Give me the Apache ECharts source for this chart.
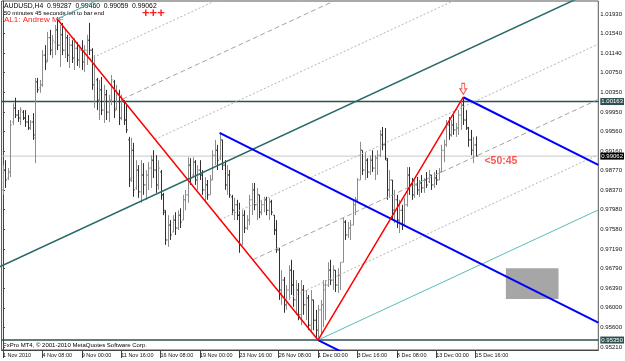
<!DOCTYPE html>
<html>
<head>
<meta charset="utf-8">
<script src="https://cdn.jsdelivr.net/npm/echarts@6/dist/echarts.min.js"></script>
<style>
html,body{margin:0;padding:0;background:#fff}
#main{width:625px;height:361px}
</style>
</head>
<body>
<div id="main"></div>
<script>
// time axis: one label every 16 H4 bars
var timeLabels = ['1 Nov 2010','4 Nov 08:00','9 Nov 00:00','11 Nov 16:00','16 Nov 08:00','19 Nov 00:00','23 Nov 16:00','26 Nov 08:00','1 Dec 00:00','3 Dec 16:00','8 Dec 08:00','13 Dec 00:00','15 Dec 16:00'];
var timeLabelBars = [0,16,32,48,64,80,96,112,128,144,160,176,192];
var priceLabels = [1.01930,1.01540,1.01140,1.00750,1.00350,0.99950,0.99560,0.99160,0.98770,0.98370,0.97980,0.97580,0.97190,0.96790,0.96390,0.96000,0.95600,0.95210];

var opens = [
0.9838,0.9878,0.9862,0.9874,0.9975,1.0003,0.9989,0.9983,0.9995,0.9983,
0.9975,0.9963,0.9975,0.9943,1.0056,1.0044,1.0050,1.0110,1.0100,1.0145,
1.0120,1.0136,1.0161,1.0130,1.0151,1.0120,1.0145,1.0110,1.0130,1.0104,
1.0124,1.0100,1.0120,1.0096,1.0120,1.0140,1.0120,1.0050,1.0060,1.0019,
1.0040,0.9999,1.0030,0.9995,1.0019,1.0056,1.0003,1.0030,0.9983,1.0015,
0.9979,0.9939,0.9862,0.9918,0.9842,0.9878,0.9834,0.9868,0.9848,0.9868,
0.9882,0.9898,0.9878,0.9848,0.9874,0.9828,0.9793,0.9737,0.9767,0.9753,
0.9777,0.9761,0.9787,0.9777,0.9818,0.9828,0.9888,0.9868,0.9894,0.9858,
0.9878,0.9868,0.9838,0.9848,0.9828,0.9858,0.9908,0.9918,0.9902,0.9939,
0.9888,0.9848,0.9868,0.9824,0.9797,0.9808,0.9787,0.9727,0.9787,0.9761,
0.9777,0.9818,0.9838,0.9808,0.9828,0.9793,0.9808,0.9818,0.9797,0.9814,
0.9787,0.9757,0.9717,0.9636,0.9656,0.9606,0.9636,0.9676,0.9646,0.9616,
0.9636,0.9586,0.9636,0.9606,0.9620,0.9565,0.9616,0.9575,0.9555,0.9596,
0.9606,0.9636,0.9646,0.9676,0.9656,0.9676,0.9646,0.9666,0.9692,0.9773,
0.9747,0.9761,0.9767,0.9808,0.9818,0.9858,0.9918,0.9878,0.9898,0.9874,
0.9898,0.9882,0.9902,0.9908,0.9949,0.9929,0.9898,0.9838,0.9858,0.9797,
0.9818,0.9777,0.9797,0.9767,0.9808,0.9868,0.9848,0.9828,0.9848,0.9838,
0.9852,0.9842,0.9858,0.9854,0.9868,0.9848,0.9862,0.9858,0.9874,0.9918,
0.9929,0.9969,0.9949,0.9969,0.9959,0.9963,0.9989,1.0009,0.9979,0.9963,
0.9939,0.9918,0.99287];
var highs = [
0.9888,0.9898,0.9882,0.9979,1.0013,1.0024,0.9999,1.0005,0.9999,0.9999,
0.9989,0.9979,0.9993,1.0064,1.0064,1.0060,1.0120,1.0130,1.0157,1.0161,
1.0151,1.0171,1.0183,1.0171,1.0175,1.0161,1.0151,1.0147,1.0140,1.0145,
1.0136,1.0130,1.0140,1.0130,1.0151,1.0175,1.0124,1.0110,1.0064,1.0060,
1.0066,1.0050,1.0040,1.0030,1.0070,1.0060,1.0050,1.0040,1.0030,1.0019,
1.0009,0.9945,0.9943,0.9933,0.9898,0.9888,0.9898,0.9892,0.9878,0.9894,
0.9908,0.9918,0.9908,0.9898,0.9878,0.9832,0.9797,0.9787,0.9777,0.9787,
0.9793,0.9797,0.9801,0.9828,0.9838,0.9904,0.9902,0.9904,0.9898,0.9888,
0.9898,0.9878,0.9864,0.9858,0.9868,0.9918,0.9939,0.9929,0.9953,0.9939,
0.9898,0.9888,0.9878,0.9828,0.9822,0.9818,0.9812,0.9797,0.9797,0.9787,
0.9828,0.9852,0.9852,0.9842,0.9828,0.9818,0.9824,0.9824,0.9822,0.9818,
0.9787,0.9777,0.9721,0.9676,0.9662,0.9646,0.9686,0.9697,0.9676,0.9656,
0.9650,0.9656,0.9646,0.9636,0.9626,0.9636,0.9616,0.9596,0.9606,0.9616,
0.9656,0.9656,0.9692,0.9697,0.9686,0.9676,0.9680,0.9692,0.9783,0.9777,
0.9773,0.9777,0.9818,0.9824,0.9862,0.9935,0.9918,0.9914,0.9902,0.9908,
0.9918,0.9908,0.9918,0.9959,0.9965,0.9963,0.9902,0.9878,0.9858,0.9838,
0.9828,0.9818,0.9808,0.9822,0.9884,0.9884,0.9862,0.9858,0.9864,0.9858,
0.9868,0.9862,0.9874,0.9878,0.9868,0.9874,0.9878,0.9882,0.9929,0.9939,
0.9979,0.9985,0.9979,0.9989,0.9973,0.9999,1.0019,1.0025,0.9999,0.9965,
0.9959,0.9945,0.99460];
var lows = [
0.9828,0.9842,0.9858,0.9864,0.9969,0.9983,0.9975,0.9969,0.9979,0.9965,
0.9959,0.9959,0.9939,0.9892,1.0034,1.0034,1.0046,1.0080,1.0096,1.0110,
1.0104,1.0110,1.0120,1.0086,1.0110,1.0104,1.0096,1.0084,1.0094,1.0080,
1.0088,1.0084,1.0080,1.0076,1.0090,1.0110,1.0040,1.0003,0.9999,0.9979,
0.9989,0.9973,0.9979,0.9975,1.0009,0.9983,0.9999,0.9969,0.9979,0.9969,
0.9953,0.9844,0.9854,0.9824,0.9838,0.9822,0.9812,0.9828,0.9818,0.9838,
0.9842,0.9862,0.9832,0.9838,0.9818,0.9787,0.9727,0.9723,0.9737,0.9753,
0.9747,0.9757,0.9761,0.9777,0.9797,0.9812,0.9848,0.9862,0.9848,0.9838,
0.9858,0.9828,0.9812,0.9818,0.9828,0.9858,0.9888,0.9878,0.9898,0.9878,
0.9838,0.9828,0.9822,0.9787,0.9777,0.9777,0.9711,0.9727,0.9751,0.9757,
0.9767,0.9787,0.9797,0.9777,0.9781,0.9787,0.9793,0.9787,0.9777,0.9787,
0.9747,0.9711,0.9616,0.9606,0.9590,0.9596,0.9616,0.9626,0.9602,0.9586,
0.9575,0.9565,0.9586,0.9575,0.9555,0.9549,0.9555,0.9539,0.9535,0.9545,
0.9561,0.9575,0.9642,0.9646,0.9636,0.9632,0.9630,0.9636,0.9692,0.9737,
0.9741,0.9737,0.9767,0.9787,0.9814,0.9858,0.9868,0.9858,0.9862,0.9868,
0.9874,0.9858,0.9868,0.9904,0.9918,0.9898,0.9818,0.9822,0.9777,0.9771,
0.9761,0.9751,0.9757,0.9767,0.9804,0.9828,0.9818,0.9822,0.9828,0.9824,
0.9832,0.9832,0.9842,0.9852,0.9838,0.9842,0.9848,0.9858,0.9874,0.9894,
0.9925,0.9939,0.9945,0.9949,0.9945,0.9949,0.9959,0.9969,0.9959,0.9925,
0.9908,0.9892,0.99059];
var closes = [
0.9878,0.9858,0.9874,0.9969,1.0003,0.9989,0.9983,0.9999,0.9983,0.9975,
0.9963,0.9975,0.9949,1.0056,1.0040,1.0050,1.0110,1.0096,1.0145,1.0120,
1.0140,1.0161,1.0130,1.0151,1.0120,1.0145,1.0110,1.0130,1.0104,1.0124,
1.0100,1.0120,1.0096,1.0120,1.0140,1.0120,1.0050,1.0090,1.0019,1.0040,
0.9999,1.0030,0.9995,1.0019,1.0060,0.9999,1.0030,0.9983,1.0019,0.9979,
0.9959,0.9858,0.9918,0.9838,0.9878,0.9834,0.9868,0.9848,0.9868,0.9882,
0.9898,0.9878,0.9848,0.9882,0.9828,0.9797,0.9737,0.9767,0.9747,0.9777,
0.9761,0.9787,0.9773,0.9818,0.9828,0.9888,0.9862,0.9894,0.9858,0.9878,
0.9868,0.9838,0.9848,0.9828,0.9858,0.9908,0.9918,0.9898,0.9939,0.9888,
0.9848,0.9868,0.9828,0.9797,0.9808,0.9787,0.9727,0.9787,0.9761,0.9777,
0.9818,0.9838,0.9808,0.9828,0.9793,0.9808,0.9818,0.9797,0.9814,0.9793,
0.9757,0.9717,0.9636,0.9656,0.9606,0.9636,0.9676,0.9646,0.9616,0.9636,
0.9586,0.9636,0.9606,0.9620,0.9565,0.9616,0.9575,0.9555,0.9596,0.9606,
0.9646,0.9646,0.9676,0.9656,0.9676,0.9646,0.9666,0.9692,0.9773,0.9747,
0.9761,0.9767,0.9808,0.9818,0.9858,0.9918,0.9878,0.9898,0.9874,0.9898,
0.9882,0.9902,0.9908,0.9949,0.9929,0.9902,0.9838,0.9858,0.9797,0.9818,
0.9777,0.9797,0.9767,0.9808,0.9868,0.9848,0.9828,0.9848,0.9838,0.9852,
0.9842,0.9858,0.9848,0.9868,0.9848,0.9862,0.9858,0.9874,0.9918,0.9929,
0.9969,0.9949,0.9969,0.9959,0.9963,0.9989,1.0009,0.9979,0.9963,0.9939,
0.9918,0.9929,0.99062];

// drawn objects (bar index, price)
var zigzag = [[22,1.0183],[128,0.9535],[187,1.0025]];
var blueFork = [[88,0.9953],[128,0.9535],[187,1.0025]];   // pivot, low, high
var mfPivot = [-10,0.9663];                               // teal fork pivot (off screen)
var levelLines = [1.00163, 0.95350];
var bidPrice = 0.99062;
var boxCorners = [[204.3,0.9680],[225.7,0.9618]];
var arrowPoint = [187,1.0042];
var timerPoint = [195.6,0.9896];

var X_MIN = -0.57, X_MAX = 241.86;
var Y_MIN = 0.95149, Y_MAX = 1.02192;
var FONT = 'Liberation Sans';

var chart = echarts.init(document.getElementById('main'));

var bars = opens.map(function(o, i){
	return [i, o, highs[i], lows[i], closes[i]];
});

function renderBar(params, api){
	var i = api.value(0);
	var pO = api.coord([i, api.value(1)]);
	var pH = api.coord([i, api.value(2)]);
	var pL = api.coord([i, api.value(3)]);
	var pC = api.coord([i, api.value(4)]);
	var x = Math.round(pH[0]) + 0.5;
	var col = api.value(4) >= api.value(1) ? '#8c8c8c' : '#303030';
	var st = {stroke: col, lineWidth: 1};
	return {type: 'group', children: [
		{type: 'line', shape: {x1: x, y1: pH[1], x2: x, y2: pL[1]}, style: st},
		{type: 'line', shape: {x1: x - 1.3, y1: pO[1], x2: x, y2: pO[1]}, style: st},
		{type: 'line', shape: {x1: x, y1: pC[1], x2: x + 1.3, y2: pC[1]}, style: st}
	]};
}

function seg(points, color, width, type, z){
	return {
		type: 'line', data: points, symbol: 'none', silent: true, z: z || 5,
		lineStyle: {color: color, width: width, type: type || 'solid'},
		animation: false
	};
}

// horizontal price level with its price box on the scale
function level(price, color, width, boxColor){
	var s = seg([[X_MIN, price], [X_MAX, price]], color, width, 'solid', 2);
	s.endLabel = {show: true, distance: 2, formatter: price.toFixed(5),
		backgroundColor: boxColor, color: '#fff', fontSize: 6, fontFamily: FONT, padding: [1,1,0,1]};
	return s;
}

var series = [];

series.push({
	type: 'custom', renderItem: renderBar, data: bars, z: 3,
	encode: {x: 0, y: [1,2,3,4]}, animation: false
});

// grey rectangle
series.push({
	type: 'line', data: [], z: 2,
	markArea: {silent: true, itemStyle: {color: '#a6a6a6'},
		data: [[{coord: boxCorners[0]}, {coord: boxCorners[1]}]]}
});

series.push(level(bidPrice, '#c8c8c8', 1, '#000'));
series.push(level(levelLines[0], '#2f4f4f', 1.5, '#2f4f4f'));
series.push(level(levelLines[1], '#2f4f4f', 1.5, '#2f4f4f'));

// teal fork through A and B with quarter lines
var A = zigzag[0], B = zigzag[1];
var mid = [(A[0] + B[0]) / 2, (A[1] + B[1]) / 2];
var slope = (mid[1] - mfPivot[1]) / (mid[0] - mfPivot[0]);
for (var k = -4; k <= 4; k++){
	var t = (4 - k) / 8;
	var s = k === 0 ? mfPivot : [A[0] + t * (B[0] - A[0]), A[1] + t * (B[1] - A[1])];
	var e = [X_MAX, s[1] + slope * (X_MAX - s[0])];
	var col, w = 1, tp = 'solid';
	if (k === 0) { col = '#2a6a6a'; w = 1.5; }
	else if (k === 4) { col = '#50b0b0'; }
	else if (k === -4) { col = '#5cbcbc'; }
	else if (Math.abs(k) === 2) { col = '#a4a4a4'; tp = [5,3]; }
	else { col = '#b4b4b4'; tp = [2,2]; }
	series.push(seg([s, e], col, w, tp, 4));
}

// blue Andrews pitchfork
var P = blueFork[0], L = blueFork[1], H = blueFork[2];
var bm = [(L[0] + H[0]) / 2, (L[1] + H[1]) / 2];
var bslope = (bm[1] - P[1]) / (bm[0] - P[0]);
[P, L, H].forEach(function(pt){
	series.push(seg([pt, [X_MAX, pt[1] + bslope * (X_MAX - pt[0])]], '#0000ff', 2, 'solid', 6));
});

// red zigzag
series.push(seg(zigzag, '#ff0000', 1.5, 'solid', 7));

// arrow above the last high and the bar timer
series.push({
	type: 'scatter', data: [arrowPoint], z: 8, silent: true, animation: false,
	symbol: 'path://M3,0 L7,0 L7,6 L10,6 L5,12 L0,6 L3,6 Z', symbolSize: [7,11],
	itemStyle: {color: '#fff', borderColor: '#ff2020', borderWidth: 1}
});
series.push({
	type: 'scatter', data: [timerPoint], z: 8, silent: true, animation: false,
	symbolSize: 0,
	label: {show: true, position: 'right', distance: 0, formatter: '<50:45',
		color: '#ff2a2a', fontSize: 10.5, fontWeight: 'bold', fontFamily: FONT}
});

var option = {
	backgroundColor: '#fff',
	animation: false,
	grid: {left: 1, top: 1, right: 24, bottom: 11, show: true, borderColor: '#555', borderWidth: 1},
	xAxis: {
		type: 'value', min: X_MIN, max: X_MAX,
		splitLine: {show: false},
		axisLine: {lineStyle: {color: '#444'}},
		axisTick: {customValues: timeLabelBars, length: 8, lineStyle: {color: '#444'}},
		axisLabel: {customValues: timeLabelBars, align: 'left', margin: 2, fontSize: 5.5,
			fontFamily: FONT, color: '#111',
			formatter: function(v){ return timeLabels[timeLabelBars.indexOf(v)] || ''; }}
	},
	yAxis: {
		type: 'value', position: 'right', min: Y_MIN, max: Y_MAX, scale: true,
		splitLine: {show: false},
		axisLine: {show: true, lineStyle: {color: '#444'}},
		axisTick: {customValues: priceLabels, length: 2, lineStyle: {color: '#444'}},
		axisLabel: {customValues: priceLabels, margin: 2, fontSize: 6, fontFamily: FONT, color: '#111',
			formatter: function(v){ return v.toFixed(5); }}
	},
	graphic: [
		{type: 'text', left: 4, top: 3, style: {text: 'AUDUSD,H4  0.99287  0.99460  0.99059  0.99062', fontSize: 6.8, fontFamily: FONT, fill: '#000'}},
		{type: 'text', left: 4, top: 10.5, style: {text: '50 minutes 45 seconds left to bar end', fontSize: 6, fontFamily: FONT, fill: '#000'}},
		{type: 'text', left: 4, top: 16, style: {text: 'AL1: Andrew MF', fontSize: 8, fontFamily: FONT, fill: '#ff2020'}},
		{type: 'text', left: 142, top: 7, style: {text: '+++', fontSize: 13, fontWeight: 'bold', fontFamily: FONT, fill: '#ff2020'}},
		{type: 'text', left: 3, top: 342.5, style: {text: 'FxPro MT4, \u00a9 2001-2010 MetaQuotes Software Corp.', fontSize: 6, fontFamily: FONT, fill: '#000'}}
	],
	series: series
};
chart.setOption(option);
</script>
</body>
</html>
